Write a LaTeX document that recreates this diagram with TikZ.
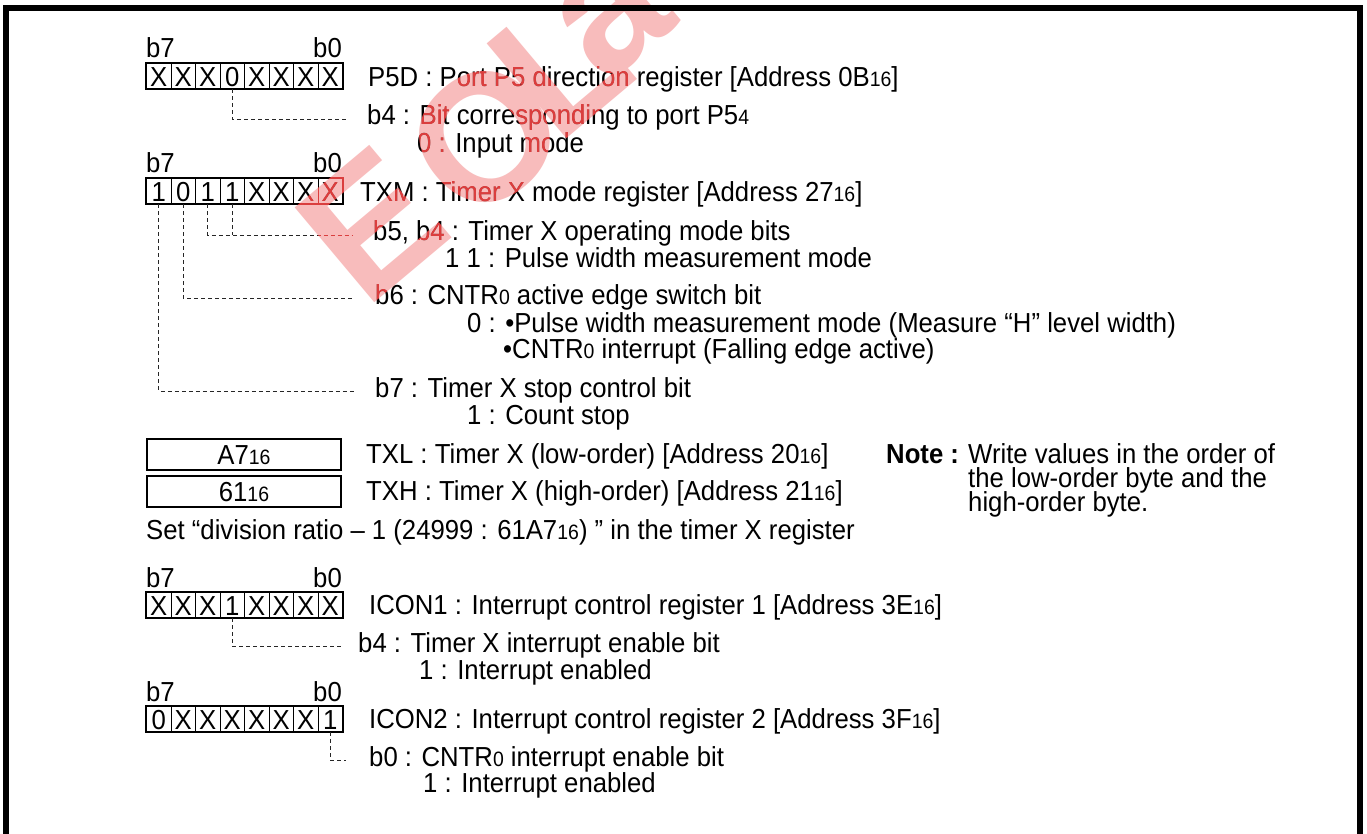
\documentclass[tikz,border=0pt]{standalone}
\usepackage{fontspec}
\setmainfont{Liberation Sans}[FakeStretch=0.935]
\newfontfamily\wmfont{Liberation Sans}
\usetikzlibrary{calc}
\definecolor{wmlight}{RGB}{248,188,188}
\definecolor{wmdark}{RGB}{218,62,62}
\newcommand{\sm}[1]{{\fontsize{20.8}{20.8}\selectfont #1}}
\newcommand{\regbits}[4]{%
  \foreach \v [count=\i from 0] in {#4} {%
    \pgfmathtruncatemacro{\bn}{7-\i}%
    \node[bit] (#1b\bn) at ({#2+24.5*\i},{#3}) {\v};
  }%
  \draw[line width=2pt] (#1b7.north west) rectangle (#1b0.south east);
  \node[lab] (#1h7) at ({#2},{#3-5}) {b7};
  \node[lab, anchor=base east] (#1h0) at ({#2+196},{#3-5}) {b0};
}
\newcommand{\wmark}[1]{%
  \node[wm, text=#1] (wmE#1) at (372,224) {E};
  \node[wm, text=#1] (wmO#1) at (485,137) {O};
  \node[wm, text=#1] (wmL#1) at (560,64) {L};
  \node[wm, text=#1] (wmA#1) at (612,18) {a};
}
\begin{document}
\begin{tikzpicture}[x=1pt,y=-1pt,
  font=\fontsize{27.5}{32}\selectfont,
  lab/.style={inner sep=0pt, anchor=base west},
  bit/.style={draw, line width=1.1pt, minimum width=24.5pt, minimum height=25pt, inner sep=0pt, anchor=north west, text height=21pt, text depth=0pt},
  valbox/.style={draw, line width=2pt, minimum width=194pt, minimum height=31pt, inner sep=0pt, anchor=north west, text height=20pt, text depth=0pt},
  conn/.style={line width=0.9pt, dash pattern=on 4pt off 3pt, black!85},
  wm/.style={rotate=40, anchor=center, inner sep=0pt, font=\wmfont\fontsize{180}{180}\selectfont\bfseries}]
\useasboundingbox (0,0) rectangle (1367,834);
\fill[white] (0,0) rectangle (1367,834);
% watermark underlay
\wmark{wmlight}

% P5D
\regbits{r1}{146}{63}{X,X,X,0,X,X,X,X}
\node[lab] (t1) at (368,87) {P5D : Port P5 direction register [Address 0B\sm{16}]};
\node[lab] (l1) at (367,125) {b4 : Bit corresponding to port P5\sm{4}};
\node[lab] (s1) at (417,153) {0 : Input mode};
\draw[conn] (r1b4.south) |- ($(l1.base west)+(-20,-6)$);

% TXM
\regbits{r2}{146}{178}{1,0,1,1,X,X,X,X}
\node[lab] (t2) at (360,202) {TXM : Timer X mode register [Address 27\sm{16}]};
\node[lab] (l2) at (373,241) {b5, b4 : Timer X operating mode bits};
\node[lab] (s2) at (445,268) {1 1 : Pulse width measurement mode};
\node[lab] (l3) at (375,304) {b6 : CNTR\sm{0} active edge switch bit};
\node[lab] (s3) at (467,332) {0 : •Pulse width measurement mode (Measure “H” level width)};
\node[lab] (s3b) at (503,358) {•CNTR\sm{0} interrupt (Falling edge active)};
\node[lab] (l4) at (375,397) {b7 : Timer X stop control bit};
\node[lab] (s4) at (467,424) {1 : Count stop};
\coordinate (e2) at ($(l2.base west)+(-20,-6)$);
\draw[conn] (r2b5.south) |- (e2);
\draw[conn] (r2b4.south) -- (r2b4.south |- e2);
\draw[conn] (r2b6.south) |- ($(l3.base west)+(-20,-6)$);
\draw[conn] (r2b7.south) |- ($(l4.base west)+(-20,-6)$);

% TXL / TXH
\node[valbox] (txl) at (146,438) {A7\sm{16}};
\node[lab] (t3) at (366,463) {TXL : Timer X (low-order) [Address 20\sm{16}]};
\node[valbox] (txh) at (146,475) {61\sm{16}};
\node[lab] (t4) at (366,500) {TXH : Timer X (high-order) [Address 21\sm{16}]};
\node[lab] (nt) at (886,463) {\textbf{Note :}};
\node[lab] (n1) at (968,463) {Write values in the order of};
\node[lab] (n2) at (968,487) {the low-order byte and the};
\node[lab] (n3) at (968,511) {high-order byte.};
\node[lab] (set) at (146,539) {Set “division ratio – 1 (24999 : 61A7\sm{16}) ” in the timer X register};

% ICON1
\regbits{r3}{146}{592}{X,X,X,1,X,X,X,X}
\node[lab] (t5) at (369,614) {ICON1 : Interrupt control register 1 [Address 3E\sm{16}]};
\node[lab] (l5) at (358,652) {b4 : Timer X interrupt enable bit};
\node[lab] (s5) at (419,679) {1 : Interrupt enabled};
\draw[conn] (r3b4.south) |- ($(l5.base west)+(-16,-6)$);

% ICON2
\regbits{r4}{146}{706}{0,X,X,X,X,X,X,1}
\node[lab] (t6) at (369,728) {ICON2 : Interrupt control register 2 [Address 3F\sm{16}]};
\node[lab] (l6) at (369,766) {b0 : CNTR\sm{0} interrupt enable bit};
\node[lab] (s6) at (423,792) {1 : Interrupt enabled};
\draw[conn] (r4b0.south) |- ($(l6.base west)+(-23,-6)$);

% watermark overlay
\begin{scope}[blend mode=lighten]
\wmark{wmdark}
\end{scope}

% frame
\draw[line width=5.5pt, line join=miter] (6,834) -- (6,8) -- (1360,8) -- (1360,834);
\end{tikzpicture}
\end{document}
